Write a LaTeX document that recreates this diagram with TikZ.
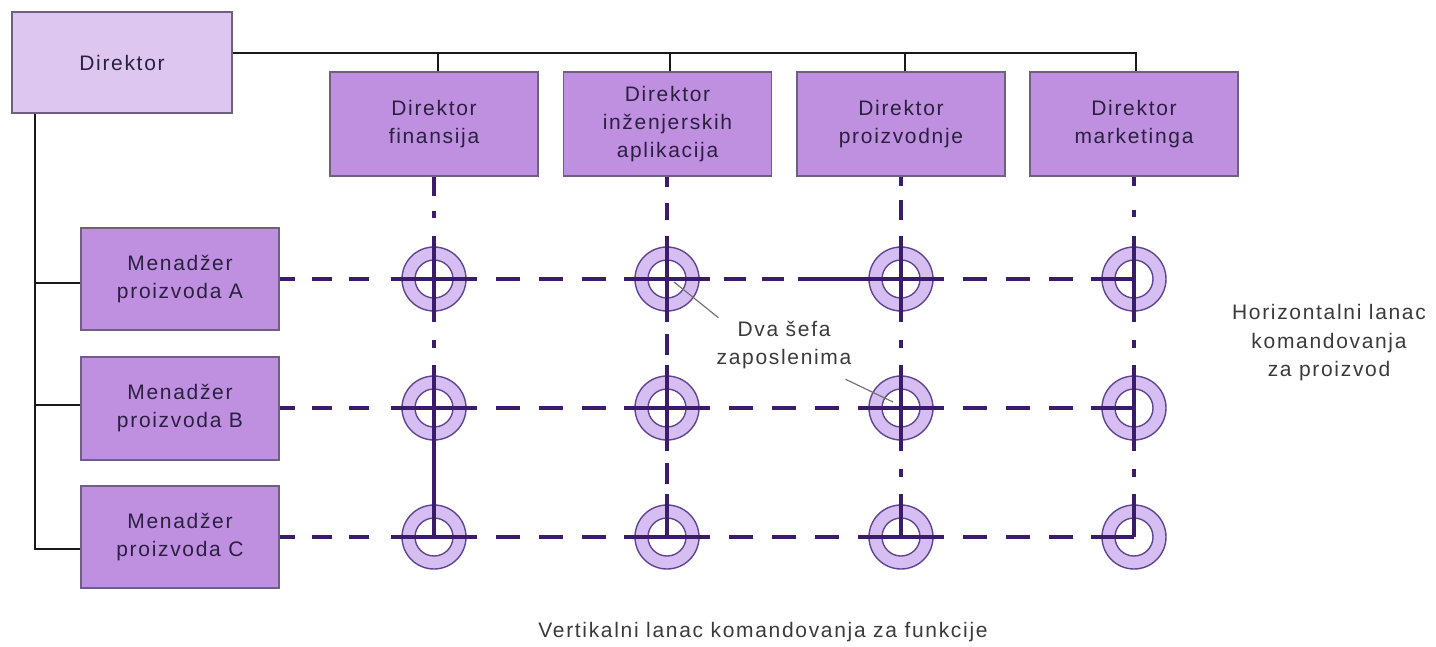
\documentclass[tikz,border=0pt]{standalone}
\usepackage{fontspec}
\setmainfont{Liberation Sans}[LetterSpace=8]
\usetikzlibrary{calc}
\definecolor{boxfill}{HTML}{BF8FE0}
\definecolor{headfill}{HTML}{DDC7F0}
\definecolor{boxline}{HTML}{6E6080}
\definecolor{ringfill}{HTML}{D7BEF2}
\definecolor{ringline}{HTML}{5E4590}
\definecolor{chain}{HTML}{3B1C6C}
\definecolor{boxtext}{HTML}{2A2040}
\definecolor{notetext}{HTML}{3A3A3A}
\tikzset{
  unit/.style={draw=boxline, line width=1.6pt, fill=boxfill, inner sep=0pt,
    align=center, text=boxtext, font=\fontsize{21}{28}\selectfont},
  orgline/.style={draw=black!90, line width=2pt},
  ring/.style={circle, draw=ringline, line width=1.4pt, fill=ringfill,
    minimum size=64pt, inner sep=0pt},
  chainline/.style={draw=chain, line width=4.5pt},
  vdot/.style={chainline, dash pattern=on 0pt off 18pt on 8pt off 40pt},
  vdash/.style={chainline, dash pattern=on 0pt off 12pt on 21pt off 40pt},
  hdash/.style={chainline, dash pattern=on 24pt off 19pt, dash phase=24pt},
  note/.style={inner sep=0pt, align=center, text=notetext,
    font=\fontsize{21}{28.5}\selectfont},
  callout/.style={draw=black!55, line width=1.2pt},
}
\begin{document}
\begin{tikzpicture}[x=1pt, y=-1pt]
\useasboundingbox (0,0) rectangle (1436,646);

% top management
\node[unit, fill=headfill, minimum width=220pt, minimum height=101pt] (dir) at (122,62.5) {Direktor};

% functional directors
\node[unit, minimum width=208pt, minimum height=104pt] (f1) at (434,124) {Direktor\\finansija};
\node[unit, minimum width=208pt, minimum height=104pt] (f2) at (667.5,124) {Direktor\\inženjerskih\\aplikacija};
\node[unit, minimum width=208pt, minimum height=104pt] (f3) at (901,124) {Direktor\\proizvodnje};
\node[unit, minimum width=208pt, minimum height=104pt] (f4) at (1134,124) {Direktor\\marketinga};

% product managers
\node[unit, minimum width=198pt, minimum height=102pt] (mA) at (180,279) {Menadžer\\proizvoda A};
\node[unit, minimum width=198pt, minimum height=103pt] (mB) at (180,408.5) {Menadžer\\proizvoda B};
\node[unit, minimum width=198pt, minimum height=102pt] (mC) at (180,537) {Menadžer\\proizvoda C};

% reporting lines of the org chart
\draw[orgline] ($(dir.east)+(0,-9.5)$) -| ($(f4.north)+(2,0)$);
\draw[orgline] ($(f1.north)+(4,0)$) -- ++(0,-19);
\draw[orgline] ($(f2.north)+(2.5,0)$) -- ++(0,-19);
\draw[orgline] ($(f3.north)+(4,0)$) -- ++(0,-19);
\draw[orgline] ($(dir.south west)+(24,0)$) |- ($(mC.west)+(0,12)$);
\draw[orgline] ($(dir.south west)+(24,0)$) |- ($(mA.west)+(0,4)$);
\draw[orgline] ($(dir.south west)+(24,0)$) |- ($(mB.west)+(0,-3.5)$);

% matrix cells
\foreach \r/\y in {1/279,2/408,3/537}
  \foreach \c/\x in {1/434,2/667,3/901,4/1134} {
    \node[ring] (c\r\c) at (\x,\y) {};
    \draw[ringline, line width=1.4pt, fill=white] (c\r\c.center) circle[radius=19pt];
  }

% arms of the cells
\foreach \r in {1,2,3}
  \foreach \c in {1,2,3,4} {
    \draw[chainline] (c\r\c.center) -- ++(0,-43);
    \draw[chainline] (c\r\c.center) -- ++(-43,0);
  }
\foreach \r in {1,2}
  \foreach \c in {1,2,3,4}
    \draw[chainline] (c\r\c.center) -- ++(0,43);
\foreach \r in {1,2,3}
  \foreach \c in {1,2,3}
    \draw[chainline] (c\r\c.center) -- ++(43,0);

% vertical chains of command
\draw[chainline, dash pattern=on 19pt off 15pt on 7pt off 40pt] (c11.center |- f1.south) -- ($(c11.center)+(0,-43)$);
\draw[chainline, dash pattern=on 10pt off 16pt on 17pt off 40pt] (c12.center |- f2.south) -- ($(c12.center)+(0,-43)$);
\draw[chainline, dash pattern=on 9pt off 14pt on 20pt off 40pt] (c13.center |- f3.south) -- ($(c13.center)+(0,-43)$);
\draw[chainline, dash pattern=on 9pt off 24pt on 7pt off 40pt] (c14.center |- f4.south) -- ($(c14.center)+(0,-43)$);

\draw[vdot] ($(c11.center)+(0,43)$) -- ($(c21.center)+(0,-43)$);
\draw[chainline] ($(c21.center)+(0,43)$) -- ($(c31.center)+(0,-43)$);
\draw[vdash] ($(c12.center)+(0,43)$) -- ($(c22.center)+(0,-43)$);
\draw[vdash] ($(c22.center)+(0,43)$) -- ($(c32.center)+(0,-43)$);
\draw[vdot] ($(c13.center)+(0,43)$) -- ($(c23.center)+(0,-43)$);
\draw[vdot] ($(c23.center)+(0,43)$) -- ($(c33.center)+(0,-43)$);
\draw[vdot] ($(c14.center)+(0,43)$) -- ($(c24.center)+(0,-43)$);
\draw[vdot] ($(c24.center)+(0,43)$) -- ($(c34.center)+(0,-43)$);

% horizontal chains of command
\draw[chainline, dash pattern=on 15pt off 17pt on 20pt off 17pt on 20pt off 60pt] (mA.east |- c11.center) -- ($(c11.center)+(-43,0)$);
\draw[chainline, dash pattern=on 15pt off 17pt on 20pt off 17pt on 20pt off 60pt] (mB.east |- c21.center) -- ($(c21.center)+(-43,0)$);
\draw[chainline, dash pattern=on 15pt off 17pt on 20pt off 17pt on 20pt off 60pt] (mC.east |- c31.center) -- ($(c31.center)+(-43,0)$);
\draw[hdash] ($(c11.center)+(43,0)$) -- ($(c12.center)+(-43,0)$);
\draw[chainline, dash pattern=on 0pt off 14pt on 22pt off 16pt on 22pt off 14pt on 200pt] ($(c12.center)+(43,0)$) -- ($(c13.center)+(-43,0)$);
\draw[hdash] ($(c13.center)+(43,0)$) -- ($(c14.center)+(-43,0)$);
\foreach \r in {2,3} {
  \draw[hdash] ($(c\r1.center)+(43,0)$) -- ($(c\r2.center)+(-43,0)$);
  \draw[hdash] ($(c\r2.center)+(43,0)$) -- ($(c\r3.center)+(-43,0)$);
  \draw[hdash] ($(c\r3.center)+(43,0)$) -- ($(c\r4.center)+(-43,0)$);
}

% annotations
\node[note] (dva) at (784,345) {Dva šefa\\zaposlenima};
\draw[callout] ($(c12.center)+(7,3)$) -- ($(dva.north west)+(2,-3)$);
\draw[callout] ($(dva.south east)+(-6,10)$) -- ($(c23.center)+(-8,-6)$);
\node[note] (hz) at (1329,343) {Horizontalni lanac\\komandovanja\\za proizvod};
\node[note] (vt) at (763,632) {Vertikalni lanac komandovanja za funkcije};
\end{tikzpicture}
\end{document}
